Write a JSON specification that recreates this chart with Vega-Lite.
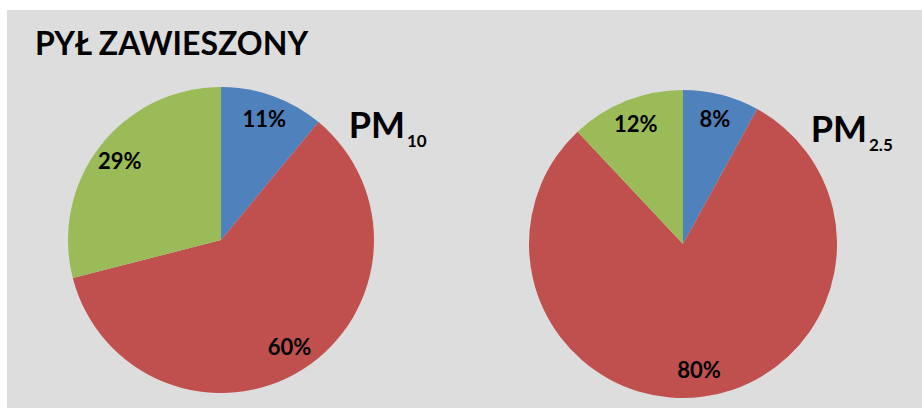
{
  "$schema": "https://vega.github.io/schema/vega-lite/v6.json",
  "width": 915,
  "height": 398,
  "autosize": "none",
  "padding": {"left": 7, "top": 10, "right": 0, "bottom": 0},
  "background": "white",
  "config": {"view": {"fill": "#dddddd", "stroke": null}, "font": "Lato"},
  "title": {
    "text": "PYŁ ZAWIESZONY",
    "anchor": "start",
    "frame": "group",
    "orient": "top",
    "offset": 0,
    "dx": 28,
    "dy": 77,
    "baseline": "alphabetic",
    "fontSize": 32,
    "font": "Lato",
    "fontWeight": "bold",
    "color": "black"
  },
  "datasets": {
    "shares": [
      {"pie": "PM10", "cat": "A", "share": 0.11},
      {"pie": "PM10", "cat": "B", "share": 0.60},
      {"pie": "PM10", "cat": "C", "share": 0.29},
      {"pie": "PM2.5", "cat": "A", "share": 0.08},
      {"pie": "PM2.5", "cat": "B", "share": 0.80},
      {"pie": "PM2.5", "cat": "C", "share": 0.12}
    ],
    "names": [
      {"pie": "PM10", "main": "PM", "sub": "10"},
      {"pie": "PM2.5", "main": "PM", "sub": "2.5"}
    ]
  },
  "encoding": {
    "x": {"field": "pie", "type": "nominal", "scale": {"type": "point", "padding": 0, "domain": ["PM10", "PM2.5"], "range": [214, 676]}, "axis": null},
    "y": {"field": "pie", "type": "nominal", "scale": {"type": "point", "padding": 0, "domain": ["PM10", "PM2.5"], "range": [230, 234]}, "axis": null}
  },
  "layer": [
    {
      "data": {"name": "shares"},
      "transform": [{"filter": "datum.pie === 'PM10'"}],
      "mark": {"type": "arc", "outerRadius": 153},
      "encoding": {
        "theta": {"field": "share", "type": "quantitative", "stack": true},
        "order": {"field": "cat", "type": "ordinal"},
        "color": {"field": "cat", "type": "nominal", "scale": {"domain": ["A", "B", "C"], "range": ["#4f81bd", "#c0504d", "#9bbb59"]}, "legend": null}
      }
    },
    {
      "data": {"name": "shares"},
      "transform": [{"filter": "datum.pie === 'PM2.5'"}],
      "mark": {"type": "arc", "outerRadius": 154},
      "encoding": {
        "theta": {"field": "share", "type": "quantitative", "stack": true},
        "order": {"field": "cat", "type": "ordinal"},
        "color": {"field": "cat", "type": "nominal", "scale": {"domain": ["A", "B", "C"], "range": ["#4f81bd", "#c0504d", "#9bbb59"]}, "legend": null}
      }
    },
    {
      "data": {"name": "shares"},
      "transform": [{"filter": "datum.pie === 'PM10'"}],
      "mark": {"type": "text", "radius": 128, "fontSize": 22, "fontWeight": "bold", "font": "Lato", "color": "black", "baseline": "middle", "align": "center"},
      "encoding": {
        "theta": {"field": "share", "type": "quantitative", "stack": true},
        "order": {"field": "cat", "type": "ordinal"},
        "text": {"field": "share", "type": "quantitative", "format": ".0%"}
      }
    },
    {
      "data": {"name": "shares"},
      "transform": [{"filter": "datum.pie === 'PM2.5'"}],
      "mark": {"type": "text", "radius": 128, "fontSize": 22, "fontWeight": "bold", "font": "Lato", "color": "black", "baseline": "middle", "align": "center"},
      "encoding": {
        "theta": {"field": "share", "type": "quantitative", "stack": true},
        "order": {"field": "cat", "type": "ordinal"},
        "text": {"field": "share", "type": "quantitative", "format": ".0%"}
      }
    },
    {
      "data": {"name": "names"},
      "mark": {"type": "text", "align": "right", "baseline": "alphabetic", "dx": 184, "dy": -102, "fontSize": 36, "fontWeight": "bold", "font": "Lato", "color": "black"},
      "encoding": {"text": {"field": "main"}}
    },
    {
      "data": {"name": "names"},
      "mark": {"type": "text", "align": "left", "baseline": "alphabetic", "dx": 186, "dy": -93, "fontSize": 17, "fontWeight": "bold", "font": "Lato", "color": "black"},
      "encoding": {"text": {"field": "sub"}}
    }
  ]
}
